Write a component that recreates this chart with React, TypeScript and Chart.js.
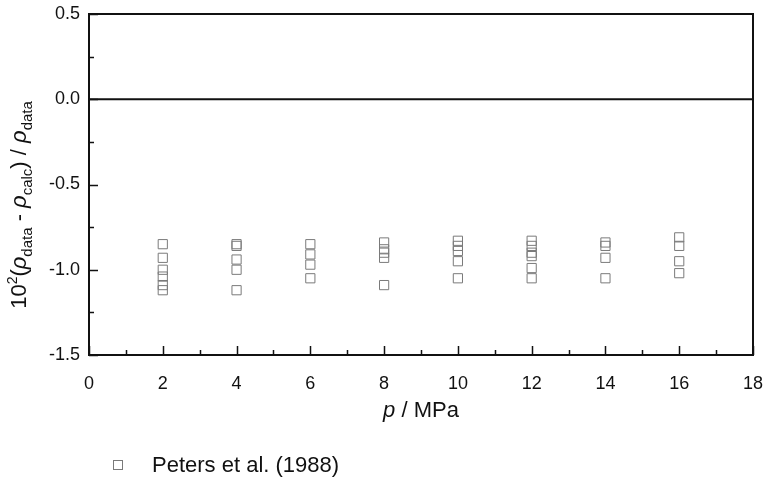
import React, { useEffect, useRef } from "react";
import { Chart, registerables } from "chart.js";

Chart.register(...registerables);

// Pressure (MPa) of each measured point
const pressureMPa = [
  2, 2, 2, 2, 2, 2,
  4, 4, 4, 4, 4,
  6, 6, 6, 6,
  8, 8, 8, 8, 8,
  10, 10, 10, 10, 10,
  12, 12, 12, 12, 12, 12,
  14, 14, 14, 14,
  16, 16, 16, 16,
];

// Relative density deviation, 10^2 (rho_data - rho_calc) / rho_data
const deviation = [
  -0.85, -0.93, -1.0, -1.04, -1.09, -1.12,
  -0.85, -0.86, -0.94, -1.0, -1.12,
  -0.85, -0.91, -0.97, -1.05,
  -0.84, -0.88, -0.9, -0.93, -1.09,
  -0.83, -0.86, -0.89, -0.95, -1.05,
  -0.83, -0.86, -0.9, -0.92, -0.99, -1.05,
  -0.84, -0.86, -0.93, -1.05,
  -0.81, -0.86, -0.95, -1.02,
];

const seriesLabel = "Peters et al. (1988)";
const xTicks = [0, 2, 4, 6, 8, 10, 12, 14, 16, 18];
const yTicks = [-1.5, -1.0, -0.5, 0.0, 0.5];

const FONT = "'Liberation Sans', Arial, sans-serif";
const INK = "#111111";
const MARKER = "#7a7a7a";

type Seg = { t: string; size: number; italic?: boolean; shift?: number };

function drawSegments(ctx: CanvasRenderingContext2D, segs: Seg[], cx: number, baseline: number) {
  const widths = segs.map((s) => {
    ctx.font = `${s.italic ? "italic " : ""}${s.size}px ${FONT}`;
    return ctx.measureText(s.t).width;
  });
  const total = widths.reduce((a, b) => a + b, 0);
  let x = cx - total / 2;
  ctx.textAlign = "left";
  ctx.textBaseline = "alphabetic";
  segs.forEach((s, i) => {
    ctx.font = `${s.italic ? "italic " : ""}${s.size}px ${FONT}`;
    ctx.fillText(s.t, x, baseline + (s.shift || 0));
    x += widths[i];
  });
}

const framePlugin = {
  id: "frameAndLabels",
  beforeDatasetsDraw(chart: any) {
    const { ctx, chartArea, scales } = chart;
    const y0 = scales.y.getPixelForValue(0);
    ctx.save();
    ctx.strokeStyle = INK;
    ctx.lineWidth = 2;
    ctx.beginPath();
    ctx.moveTo(chartArea.left, y0);
    ctx.lineTo(chartArea.right, y0);
    ctx.stroke();
    ctx.restore();
  },
  afterDraw(chart: any) {
    const { ctx, chartArea, scales } = chart;
    const { left, right, top, bottom } = chartArea;
    ctx.save();
    ctx.strokeStyle = INK;
    ctx.lineWidth = 2;
    ctx.strokeRect(left, top, right - left, bottom - top);

    // inward tick marks on the bottom and left axes
    ctx.lineWidth = 1.5;
    ctx.beginPath();
    for (let v = 0; v <= 18; v += 1) {
      const px = Math.round(scales.x.getPixelForValue(v)) + 0.5;
      const len = v % 2 === 0 ? 9 : 5;
      ctx.moveTo(px, bottom);
      ctx.lineTo(px, bottom - len);
    }
    for (let k = 0; k <= 8; k += 1) {
      const v = -1.5 + k * 0.25;
      const py = Math.round(scales.y.getPixelForValue(v)) + 0.5;
      const len = k % 2 === 0 ? 9 : 5;
      ctx.moveTo(left, py);
      ctx.lineTo(left + len, py);
    }
    ctx.stroke();

    ctx.fillStyle = INK;

    // x axis title
    drawSegments(
      ctx,
      [
        { t: "p", size: 22, italic: true },
        { t: " / MPa", size: 22 },
      ],
      (left + right) / 2,
      417
    );

    // y axis title
    ctx.save();
    ctx.translate(26, 205);
    ctx.rotate(-Math.PI / 2);
    drawSegments(
      ctx,
      [
        { t: "10", size: 22 },
        { t: "2", size: 14, shift: -9 },
        { t: "(", size: 22 },
        { t: "ρ", size: 22, italic: true },
        { t: "data", size: 15, shift: 6 },
        { t: " - ", size: 22 },
        { t: "ρ", size: 22, italic: true },
        { t: "calc", size: 15, shift: 6 },
        { t: ") / ", size: 22 },
        { t: "ρ", size: 22, italic: true },
        { t: "data", size: 15, shift: 6 },
      ],
      0,
      0
    );
    ctx.restore();

    // legend
    const lx = 118;
    const ly = 465;
    ctx.strokeStyle = MARKER;
    ctx.lineWidth = 1;
    ctx.strokeRect(lx - 4.5, ly - 4.5, 9, 9);
    ctx.fillStyle = INK;
    ctx.font = `22px ${FONT}`;
    ctx.textAlign = "left";
    ctx.textBaseline = "middle";
    ctx.fillText(seriesLabel, 152, ly + 1);
    ctx.restore();
  },
};

export default function App() {
  const canvasRef = useRef<HTMLCanvasElement | null>(null);

  useEffect(() => {
    const canvas = canvasRef.current;
    if (!canvas) return;
    const points = pressureMPa.map((x, i) => ({ x, y: deviation[i] }));
    const chart = new Chart(canvas, {
      type: "scatter",
      data: {
        datasets: [
          {
            label: seriesLabel,
            data: points,
            pointStyle: "rect",
            pointRadius: 6.5,
            pointHoverRadius: 6.5,
            borderWidth: 1,
            borderColor: MARKER,
            backgroundColor: "rgba(0,0,0,0)",
          },
        ],
      },
      options: {
        responsive: false,
        animation: false,
        events: [],
        layout: { autoPadding: false, padding: { left: 0, right: 13, top: 14, bottom: 0 } },
        plugins: {
          legend: { display: false },
          tooltip: { enabled: false },
          title: { display: false },
        },
        scales: {
          x: {
            type: "linear",
            min: 0,
            max: 18,
            afterBuildTicks: (scale: any) => {
              scale.ticks = xTicks.map((value) => ({ value }));
            },
            afterFit: (scale: any) => {
              scale.height = 127;
              scale.paddingLeft = 0;
              scale.paddingRight = 0;
            },
            grid: { display: false, drawTicks: false },
            border: { display: false },
            ticks: {
              padding: 18,
              color: INK,
              font: { family: FONT, size: 18 },
              maxRotation: 0,
              autoSkip: false,
              callback: (v: any) => String(v),
            },
          },
          y: {
            type: "linear",
            min: -1.5,
            max: 0.5,
            afterBuildTicks: (scale: any) => {
              scale.ticks = yTicks.map((value) => ({ value }));
            },
            afterFit: (scale: any) => {
              scale.width = 89;
              scale.paddingTop = 0;
              scale.paddingBottom = 0;
            },
            grid: { display: false, drawTicks: false },
            border: { display: false },
            ticks: {
              padding: 9,
              color: INK,
              font: { family: FONT, size: 18 },
              autoSkip: false,
              callback: (v: any) => Number(v).toFixed(1),
            },
          },
        },
      },
      plugins: [framePlugin],
    });
    return () => chart.destroy();
  }, []);

  return (
    <div style={{ position: "absolute", left: 0, top: 0, width: 766, height: 482, background: "#fff" }}>
      <canvas ref={canvasRef} width={766} height={482} style={{ display: "block" }} />
    </div>
  );
}
